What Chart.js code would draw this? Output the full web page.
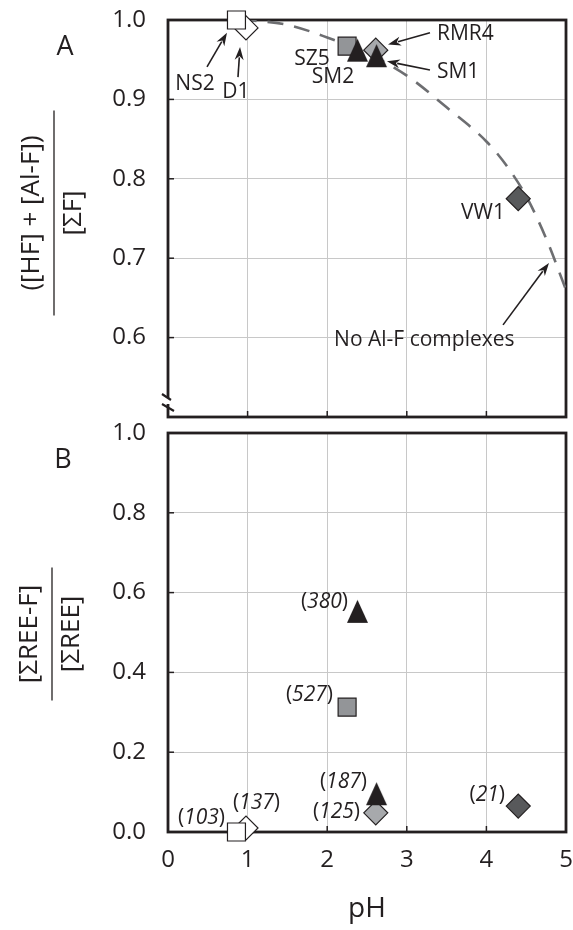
<!DOCTYPE html>
<html>
<head>
<meta charset="utf-8">
<script src="https://cdn.jsdelivr.net/npm/chart.js@4.4.1/dist/chart.umd.min.js"></script>
<style>
  html, body { margin: 0; padding: 0; background: #fff; }
  .panel { position: absolute; left: 0; }
</style>
</head>
<body>
<div class="panel" style="top:0"><canvas id="chartA" width="573" height="425"></canvas></div>
<div class="panel" style="top:395px"><canvas id="chartB" width="573" height="535"></canvas></div>
<script>
// samples
const samples = ['NS2', 'D1', 'SZ5', 'SM2', 'RMR4', 'SM1', 'VW1'];
const pH = [0.86, 0.98, 2.25, 2.38, 2.61, 2.62, 4.40];
const fracHFAlF = [1.0, 0.99, 0.967, 0.962, 0.962, 0.955, 0.775];
const fracREEF = [0.0, 0.01, 0.313, 0.553, 0.048, 0.096, 0.065];
const nREE = [103, 137, 527, 380, 125, 187, 21];

// "No Al-F complexes" curve
const curvePH = [1.0, 1.5, 2.0, 2.5, 3.0, 3.5, 4.0, 4.25, 4.5, 4.75, 5.0];
const curveFrac = [1.0, 0.994, 0.978, 0.958, 0.93, 0.89, 0.847, 0.817, 0.778, 0.725, 0.66];

const xTicks = [0, 1, 2, 3, 4, 5];
const yTicksA = [0.6, 0.7, 0.8, 0.9, 1.0];
const yTicksB = [0.0, 0.2, 0.4, 0.6, 0.8, 1.0];

const INK = '#231f20';
const FONT = "'Open Sans', sans-serif";
Chart.defaults.font.family = FONT;
Chart.defaults.color = INK;
Chart.defaults.animation = false;

function triangleImg(w, h) {
  const c = document.createElement('canvas');
  c.width = w + 2; c.height = h + 2;
  const g = c.getContext('2d');
  g.beginPath();
  g.moveTo(c.width / 2, 1);
  g.lineTo(w + 1, h + 1);
  g.lineTo(1, h + 1);
  g.closePath();
  g.fillStyle = INK;
  g.fill();
  return c;
}
const tri = triangleImg(21, 23);

// marker look per sample
const markerStyle = {
  NS2:  { pointStyle: 'rect', radius: 12.7, fill: '#ffffff', order: 5 },
  D1:   { pointStyle: 'rectRot', radius: 12, fill: '#ffffff', order: 6 },
  SZ5:  { pointStyle: 'rect', radius: 12.7, fill: '#939598', order: 4 },
  SM2:  { pointStyle: tri, radius: 12, fill: INK, order: 3 },
  RMR4: { pointStyle: 'rectRot', radius: 12, fill: '#a7a9ac', order: 2 },
  SM1:  { pointStyle: tri, radius: 12, fill: INK, order: 1 },
  VW1:  { pointStyle: 'rectRot', radius: 12, fill: '#58595b', order: 0 }
};

function sampleDatasets(yValues) {
  return samples.map((name, i) => {
    const s = markerStyle[name];
    return {
      label: name,
      data: [{ x: pH[i], y: yValues[i] }],
      pointStyle: s.pointStyle,
      pointRadius: s.radius,
      pointBackgroundColor: s.fill,
      pointBorderColor: INK,
      pointBorderWidth: 1.2,
      showLine: false,
      clip: false,
      order: s.order
    };
  });
}

// annotations (data coords)
const labelsA = [
  { text: 'NS2', x: 0.339, y: 0.919, align: 'center' },
  { text: 'D1', x: 0.854, y: 0.909, align: 'center' },
  { text: 'SZ5', x: 1.809, y: 0.951, align: 'center' },
  { text: 'SM2', x: 2.073, y: 0.928, align: 'center' },
  { text: 'RMR4', x: 3.379, y: 0.982, align: 'left' },
  { text: 'SM1', x: 3.379, y: 0.935, align: 'left' },
  { text: 'VW1', x: 3.957, y: 0.757, align: 'center' },
  { text: 'No Al-F complexes', x: 3.22, y: 0.597, align: 'center' }
];
const arrowsA = [
  [0.49, 0.941, 0.741, 0.984],
  [0.879, 0.928, 0.905, 0.966],
  [3.291, 0.984, 2.764, 0.969],
  [3.291, 0.937, 2.751, 0.948],
  [4.209, 0.616, 4.786, 0.694]
];
// right edge of each "(n)" label in panel B
const labelPosB = [
  [0.716, 0.035], [1.407, 0.073], [2.073, 0.343], [2.261, 0.576],
  [2.412, 0.05], [2.5, 0.125], [4.234, 0.093]
];

function drawArrow(ctx, x1, y1, x2, y2) {
  const a = Math.atan2(y2 - y1, x2 - x1);
  const len = 13, half = 4.5;
  ctx.beginPath();
  ctx.moveTo(x1, y1);
  ctx.lineTo(x2 - Math.cos(a) * len * 0.8, y2 - Math.sin(a) * len * 0.8);
  ctx.lineWidth = 1.6;
  ctx.strokeStyle = INK;
  ctx.stroke();
  ctx.beginPath();
  ctx.moveTo(x2, y2);
  ctx.lineTo(x2 - Math.cos(a) * len - Math.sin(a) * half, y2 - Math.sin(a) * len + Math.cos(a) * half);
  ctx.lineTo(x2 - Math.cos(a) * len * 0.7, y2 - Math.sin(a) * len * 0.7);
  ctx.lineTo(x2 - Math.cos(a) * len + Math.sin(a) * half, y2 - Math.sin(a) * len - Math.cos(a) * half);
  ctx.closePath();
  ctx.fillStyle = INK;
  ctx.fill();
}

function drawFraction(ctx, cx, cy, num, den, size, barLen, gapNum, gapDen) {
  ctx.save();
  ctx.translate(cx, cy);
  ctx.rotate(-Math.PI / 2);
  ctx.fillStyle = INK;
  ctx.font = size + 'px ' + FONT;
  ctx.textAlign = 'center';
  ctx.textBaseline = 'middle';
  ctx.fillText(num, 0, -gapNum);
  ctx.fillText(den, 0, gapDen);
  ctx.beginPath();
  ctx.moveTo(-barLen / 2, 0);
  ctx.lineTo(barLen / 2, 0);
  ctx.lineWidth = 1.3;
  ctx.strokeStyle = INK;
  ctx.stroke();
  ctx.restore();
}

// frame, inner ticks, break marks
function framePlugin(withBreak) {
  return {
    id: 'frame',
    beforeDatasetsDraw(chart) {
      const { ctx, chartArea: a, scales } = chart;
      ctx.save();
      ctx.strokeStyle = INK;
      ctx.lineWidth = 1.5;
      scales.y.ticks.forEach(t => {
        const py = scales.y.getPixelForValue(t.value);
        ctx.beginPath(); ctx.moveTo(a.left, py); ctx.lineTo(a.left + 6, py); ctx.stroke();
      });
      scales.x.ticks.forEach(t => {
        const px = scales.x.getPixelForValue(t.value);
        ctx.beginPath(); ctx.moveTo(px, a.bottom); ctx.lineTo(px, a.bottom - 6); ctx.stroke();
      });
      ctx.lineWidth = 2.8;
      ctx.strokeRect(a.left, a.top, a.right - a.left, a.bottom - a.top);
      if (withBreak) {
        ctx.fillStyle = '#fff';
        ctx.fillRect(a.left - 3, a.bottom - 19, 6, 6);
        ctx.lineWidth = 2.2;
        ctx.beginPath();
        ctx.moveTo(a.left - 6, a.bottom - 23); ctx.lineTo(a.left + 3, a.bottom - 17);
        ctx.moveTo(a.left - 6, a.bottom - 13); ctx.lineTo(a.left + 6, a.bottom - 6);
        ctx.stroke();
      }
      ctx.restore();
    }
  };
}

const annotA = {
  id: 'annotA',
  afterDatasetsDraw(chart) {
    const { ctx, scales: { x, y } } = chart;
    ctx.save();
    ctx.fillStyle = INK;
    ctx.font = '21px ' + FONT;
    ctx.textBaseline = 'middle';
    labelsA.forEach(l => {
      ctx.textAlign = l.align;
      ctx.fillText(l.text, x.getPixelForValue(l.x), y.getPixelForValue(l.y));
    });
    arrowsA.forEach(a => drawArrow(ctx, x.getPixelForValue(a[0]), y.getPixelForValue(a[1]),
      x.getPixelForValue(a[2]), y.getPixelForValue(a[3])));
    drawFraction(ctx, 54, 213, '([HF] + [Al-F])', '[\u03A3F]', 26, 205, 22, 20);
    ctx.font = '27px ' + FONT;
    ctx.textAlign = 'center';
    ctx.fillText('A', 65, 47);
    ctx.restore();
  }
};

const annotB = {
  id: 'annotB',
  afterDatasetsDraw(chart) {
    const { ctx, scales: { x, y } } = chart;
    ctx.save();
    ctx.fillStyle = INK;
    ctx.textBaseline = 'middle';
    ctx.textAlign = 'left';
    const up = '21px ' + FONT;
    const it = 'italic 21px ' + FONT;
    nREE.forEach((n, i) => {
      const right = x.getPixelForValue(labelPosB[i][0]);
      const py = y.getPixelForValue(labelPosB[i][1]);
      const s = String(n);
      ctx.font = up; const wp = ctx.measureText('(').width, wq = ctx.measureText(')').width;
      ctx.font = it; const wn = ctx.measureText(s).width;
      let px = right - wp - wn - wq;
      ctx.font = up; ctx.fillText('(', px, py); px += wp;
      ctx.font = it; ctx.fillText(s, px, py); px += wn;
      ctx.font = up; ctx.fillText(')', px, py);
    });
    drawFraction(ctx, 52, 239, '[\u03A3REE-F]', '[\u03A3REE]', 26, 133, 22, 20);
    ctx.font = '27px ' + FONT;
    ctx.textAlign = 'center';
    ctx.fillText('B', 63, 65);
    ctx.restore();
  }
};

const gridColor = '#c8c8c8';

function fixY(s) { s.width = 168; s.paddingTop = 0; s.paddingBottom = 0; }
function fixX(h) {
  return s => { s.height = h; s.paddingLeft = 0; s.paddingRight = 0; };
}

new Chart(document.getElementById('chartA'), {
  type: 'scatter',
  data: {
    datasets: [
      {
        type: 'line',
        label: 'No Al-F complexes',
        data: curvePH.map((v, i) => ({ x: v, y: curveFrac[i] })),
        borderColor: '#6d6e71',
        borderWidth: 2.6,
        borderDash: [16, 11],
        borderDashOffset: -20,
        pointRadius: 0,
        cubicInterpolationMode: 'monotone',
        fill: false,
        order: 100
      },
      ...sampleDatasets(fracHFAlF)
    ]
  },
  options: {
    responsive: false,
    layout: { autoPadding: false, padding: { top: 20, right: 7, left: 0, bottom: 0 } },
    plugins: { legend: { display: false }, tooltip: { enabled: false } },
    scales: {
      x: {
        type: 'linear', min: 0, max: 5,
        afterBuildTicks: s => { s.ticks = xTicks.map(v => ({ value: v })); },
        ticks: { display: false },
        grid: { color: gridColor, drawTicks: false },
        border: { display: false },
        afterFit: fixX(8)
      },
      y: {
        min: 0.5, max: 1.0,
        afterBuildTicks: s => { s.ticks = yTicksA.map(v => ({ value: v })); },
        ticks: { font: { size: 24 }, padding: 22, callback: v => v.toFixed(1) },
        grid: { color: gridColor, drawTicks: false },
        border: { display: false },
        afterFit: fixY
      }
    }
  },
  plugins: [framePlugin(true), annotA]
});

new Chart(document.getElementById('chartB'), {
  type: 'scatter',
  data: { datasets: sampleDatasets(fracREEF) },
  options: {
    responsive: false,
    layout: { autoPadding: false, padding: { top: 38, right: 7, left: 0, bottom: 0 } },
    plugins: { legend: { display: false }, tooltip: { enabled: false } },
    scales: {
      x: {
        type: 'linear', min: 0, max: 5,
        afterBuildTicks: s => { s.ticks = xTicks.map(v => ({ value: v })); },
        ticks: { font: { size: 24 }, padding: 14, callback: v => String(v) },
        grid: { color: gridColor, drawTicks: false },
        border: { display: false },
        title: { display: true, text: 'pH', font: { size: 28 }, padding: { top: 0, bottom: 4 } },
        afterFit: fixX(98)
      },
      y: {
        min: 0, max: 1.0,
        afterBuildTicks: s => { s.ticks = yTicksB.map(v => ({ value: v })); },
        ticks: { font: { size: 24 }, padding: 22, callback: v => v.toFixed(1) },
        grid: { color: gridColor, drawTicks: false },
        border: { display: false },
        afterFit: fixY
      }
    }
  },
  plugins: [framePlugin(false), annotB]
});
</script>
</body>
</html>
